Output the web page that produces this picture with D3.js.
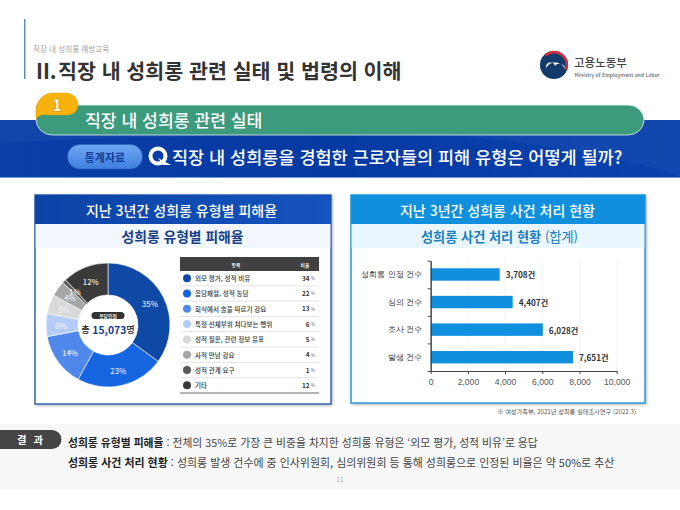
<!DOCTYPE html>
<html lang="ko">
<head>
<meta charset="utf-8">
<script src="https://cdn.jsdelivr.net/npm/d3@7"></script>
<style>
  html, body { margin: 0; padding: 0; background: #fff; }
  svg { display: block; font-family: "Noto Sans CJK KR", "Noto Sans", sans-serif; }
</style>
</head>
<body>
<svg id="slide" width="680" height="510"></svg>
<script>
const pieLabels = ['외모 평가, 성적 비유', '음담패설, 성적 농담', '회식에서 술을 따르기 강요', '특정 신체부위 쳐다보는 행위', '성적 질문, 관련 정보 유포', '사적 만남 강요', '성적 관계 요구', '기타'];
const pieValues = [35, 23, 14, 6, 5, 4, 1, 12];
const tableValues = [34, 22, 13, 6, 5, 4, 1, 12];
const pieColours = ['#0f49a6', '#1565e0', '#4f87ea', '#b4cdf8', '#d9d9d9', '#a6a6a6', '#595959', '#3a3a3a'];
const pieTextColours = ['#dfe8f8', '#dfe8f8', '#eef3fd', '#eef3fd', '#f4f4f4', '#f0f0f0', '#f0f0f0', '#e6e6e6'];

const barLabels = ['성희롱 인정 건수', '심의 건수', '조사 건수', '발생 건수'];
const barValues = [3708, 4407, 6028, 7651];
const barTicks = [0, 2000, 4000, 6000, 8000, 10000];

const svg = d3.select('#slide');
const defs = svg.append('defs');

const bannerGrad = defs.append('linearGradient').attr('id', 'banner').attr('x1', 0).attr('x2', 1).attr('y1', 0).attr('y2', 0);
bannerGrad.append('stop').attr('offset', 0).attr('stop-color', '#0b3fa5');
bannerGrad.append('stop').attr('offset', 0.5).attr('stop-color', '#063aa3');
bannerGrad.append('stop').attr('offset', 1).attr('stop-color', '#0b42ad');

const leftHeadGrad = defs.append('linearGradient').attr('id', 'leftHead').attr('x1', 0).attr('x2', 1).attr('y1', 0).attr('y2', 0);
leftHeadGrad.append('stop').attr('offset', 0).attr('stop-color', '#0c43a6');
leftHeadGrad.append('stop').attr('offset', 1).attr('stop-color', '#1553bd');

const buttonGrad = defs.append('linearGradient').attr('id', 'button').attr('x1', 0).attr('x2', 0).attr('y1', 0).attr('y2', 1);
buttonGrad.append('stop').attr('offset', 0).attr('stop-color', '#6fa8f2');
buttonGrad.append('stop').attr('offset', 1).attr('stop-color', '#3f7fe0');

const shadow = defs.append('filter').attr('id', 'shadow').attr('x', '-5%').attr('y', '-5%').attr('width', '110%').attr('height', '110%');
shadow.append('feDropShadow').attr('dx', 1).attr('dy', 1).attr('stdDeviation', 1.5).attr('flood-color', '#000').attr('flood-opacity', 0.3);

function text(parent, x, y, str, size, fill, weight, anchor) {
  return parent.append('text')
    .attr('x', x).attr('y', y)
    .attr('font-size', size)
    .attr('fill', fill)
    .attr('font-weight', weight || 400)
    .attr('text-anchor', anchor || 'start')
    .attr('dominant-baseline', 'central')
    .text(str);
}

// page title
const head = svg.append('g');
head.append('rect').attr('x', 24).attr('y', 19).attr('width', 1.5).attr('height', 60).attr('fill', '#5b8db5');
text(head, 33, 48, '직장 내 성희롱 예방교육', 7.6, '#a3a3a3');
text(head, 36, 70, 'II.', 21, '#333', 700);
text(head, 58, 70, '직장 내 성희롱 관련 실태 및 법령의 이해', 20.6, '#333', 700);

// ministry logo
const logo = head.append('g').attr('transform', 'translate(554,65)');
logo.append('circle').attr('r', 14).attr('fill', '#123a6b');
logo.append('path').attr('d', 'M-8,3 A10.5,10.5 0 0 1 11,4 A5.5,5.5 0 0 0 1,1 A4.5,4.5 0 0 0 -8,3 Z').attr('fill', '#fff');
logo.append('path')
  .attr('d', d3.arc().innerRadius(11.6).outerRadius(14.2).startAngle(-0.75).endAngle(1.95)())
  .attr('fill', '#cf2e3e');
text(head, 574, 62, '고용노동부', 11.5, '#444', 500);
text(head, 574.5, 74, 'Ministry of Employment and Labor', 5.1, '#666', 500);

// blue banner
const banner = svg.append('g');
banner.append('rect').attr('x', 0).attr('y', 120).attr('width', 680).attr('height', 57).attr('fill', 'url(#banner)');
banner.append('path').attr('d', 'M0,143 Q200,132 460,136 Q600,150 680,176 L680,120 L0,120 Z').attr('fill', '#1a4db0').attr('opacity', 0.55);
banner.append('rect').attr('x', 0).attr('y', 177).attr('width', 680).attr('height', 1).attr('fill', '#6ea0d8');

banner.append('path')
  .attr('d', 'M36,105 H628 A16,15 0 0 1 628,135 H52 A16,16 0 0 1 36,119 Z')
  .attr('fill', '#3c9a7d').attr('stroke', '#e4f1ec').attr('stroke-width', 0.8);
banner.append('path')
  .attr('d', 'M36,110 A17,17 0 0 1 53,93 H66 A12,12 0 0 1 78,105 A10,10 0 0 1 68,115 H48 A12,12 0 0 0 36,119 Z')
  .attr('fill', '#f7b30c').attr('stroke', '#dc9a10').attr('stroke-width', 0.4);
text(banner, 57, 104, '1', 15.5, '#fff6d8', 700, 'middle')
  .attr('stroke', '#d8861a').attr('stroke-width', 1.2).attr('paint-order', 'stroke');
text(banner, 85, 119, '직장 내 성희롱 관련 실태', 17.2, '#fff', 500);

banner.append('rect').attr('x', 67.5).attr('y', 144.5).attr('width', 75).attr('height', 24.5).attr('rx', 12.2)
  .attr('fill', 'url(#button)').attr('stroke', '#2a5db8').attr('stroke-width', 0.6);
text(banner, 105, 156.5, '통계자료', 11, '#143f99', 700, 'middle');
banner.append('circle').attr('cx', 158).attr('cy', 156).attr('r', 7.5).attr('fill', 'none').attr('stroke', '#fff').attr('stroke-width', 4);
banner.append('path').attr('d', 'M158,158 L171,165 L163,165 Z').attr('fill', '#fff');
text(banner, 172, 156, '직장 내 성희롱을 경험한 근로자들의 피해 유형은 어떻게 될까?', 17.5, '#fff', 500);

function panel(x, w, h, stroke, headFill, subFill) {
  const g = svg.append('g');
  g.append('rect').attr('x', x).attr('y', 195).attr('width', w).attr('height', h)
    .attr('fill', '#fff').attr('stroke', stroke).attr('stroke-width', 1.4).attr('filter', 'url(#shadow)');
  g.append('rect').attr('x', x).attr('y', 195).attr('width', w).attr('height', 29).attr('fill', headFill);
  g.append('rect').attr('x', x + 0.7).attr('y', 224).attr('width', w - 1.4).attr('height', 24).attr('fill', subFill);
  return g;
}

// left panel: donut and table
const left = panel(35, 296, 209, '#2a5ca8', 'url(#leftHead)', '#f2f6fd');
text(left, 181.5, 210, '지난 3년간 성희롱 유형별 피해율', 14, '#fff', 500, 'middle');
text(left, 182.5, 236, '성희롱 유형별 피해율', 13.8, '#163f86', 700, 'middle');

const pie = d3.pie().sort(null).value(d => d)(pieValues);
const arc = d3.arc().innerRadius(30).outerRadius(62);
const labelArc = d3.arc().innerRadius(47).outerRadius(47);
const donut = left.append('g').attr('transform', 'translate(108,325)');
donut.selectAll('path.slice').data(pie).join('path')
  .attr('class', 'slice')
  .attr('d', arc)
  .attr('fill', (d, i) => pieColours[i])
  .attr('stroke', '#fff')
  .attr('stroke-width', 0.6);
donut.selectAll('text.pct').data(pie).join('text')
  .attr('class', 'pct')
  .attr('x', d => labelArc.centroid(d)[0])
  .attr('y', d => labelArc.centroid(d)[1])
  .attr('text-anchor', 'middle')
  .attr('dominant-baseline', 'central')
  .attr('font-size', 7.6)
  .attr('font-weight', 500)
  .attr('fill', (d, i) => pieTextColours[i])
  .text(d => d.data + '%');

donut.append('rect').attr('x', -16.5).attr('y', -13).attr('width', 33).attr('height', 7).attr('rx', 3.5).attr('fill', '#333');
text(donut, 0, -9.5, '응답인원', 4.8, '#fff', 500, 'middle');
const total = text(donut, 0, 4, '', 9.2, '#222', 500, 'middle');
total.append('tspan').text('총 ');
total.append('tspan').attr('font-size', 10.4).attr('font-weight', 700).attr('fill', '#16418f').text('15,073');
total.append('tspan').text('명');

const tableX = d3.scaleLinear().domain([0, 1]).range([180, 319]);
const rowY = d3.scaleBand().domain(d3.range(pieLabels.length)).range([270.5, 393]);
const table = left.append('g');
table.append('rect').attr('x', tableX(0)).attr('y', 257).attr('width', tableX(1) - tableX(0)).attr('height', 14).attr('fill', '#404040');
text(table, 236, 264, '항목', 4.8, '#fff', 500, 'middle');
text(table, 305, 264, '비율', 4.8, '#fff', 500, 'middle');
const rows = table.selectAll('g.row').data(pieLabels).join('g').attr('class', 'row')
  .attr('transform', (d, i) => `translate(0,${rowY(i) + rowY.bandwidth() / 2})`);
rows.append('circle').attr('cx', 187).attr('r', 4).attr('fill', (d, i) => pieColours[i]);
rows.append('text').attr('x', 195).attr('dominant-baseline', 'central').attr('font-size', 6.5).attr('font-weight', 500).attr('fill', '#333').text(d => d);
rows.append('text').attr('x', 309.5).attr('text-anchor', 'end').attr('dominant-baseline', 'central').attr('font-size', 6.4).attr('font-weight', 700).attr('fill', '#333')
  .text((d, i) => tableValues[i]);
rows.append('text').attr('x', 311).attr('dominant-baseline', 'central').attr('font-size', 4.2).attr('fill', '#666').text('%');
rows.append('line').attr('x1', tableX(0)).attr('x2', tableX(1))
  .attr('y1', rowY.bandwidth() / 2).attr('y2', rowY.bandwidth() / 2)
  .attr('stroke', (d, i) => i === pieLabels.length - 1 ? '#444' : '#dcdcdc').attr('stroke-width', 0.8);

// right panel: bars
const right = panel(351, 294, 208, '#1a8fd3', '#0f8fdc', '#eaf6fd');
text(right, 497.5, 210, '지난 3년간 성희롱 사건 처리 현황', 14, '#fff', 500, 'middle');
const sub = text(right, 499.5, 236, '', 13.2, '#1c7fbf', 700, 'middle');
sub.append('tspan').text('성희롱 사건 처리 현황 ');
sub.append('tspan').attr('font-weight', 400).text('(합계)');

const x = d3.scaleLinear().domain([0, 10000]).range([430.7, 616.7]);
const y = d3.scaleBand().domain(barLabels).range([260.7, 371]).paddingInner(0.55).paddingOuter(0.275);
const yEdges = d3.scaleLinear().domain([0, barLabels.length]).range([260.7, 371]);

right.append('g').selectAll('line').data(barTicks).join('line')
  .attr('x1', d => x(d)).attr('x2', d => x(d))
  .attr('y1', 260.7).attr('y2', 371)
  .attr('stroke', '#f3f3f3');

right.append('g').selectAll('rect').data(barValues).join('rect')
  .attr('x', x(0))
  .attr('y', (d, i) => y(barLabels[i]))
  .attr('width', d => x(d) - x(0))
  .attr('height', y.bandwidth())
  .attr('fill', '#0f8fdc');

right.append('g').selectAll('text').data(barValues).join('text')
  .attr('x', d => x(d) + 6)
  .attr('y', (d, i) => y(barLabels[i]) + y.bandwidth() / 2)
  .attr('dominant-baseline', 'central')
  .attr('font-size', 8.2)
  .attr('font-weight', 700)
  .attr('fill', '#333')
  .text(d => d3.format(',')(d) + '건');

const xAxis = right.append('g').attr('transform', 'translate(0,371)')
  .call(d3.axisBottom(x).tickValues(barTicks).tickFormat(d3.format(',')).tickSize(3).tickSizeOuter(0));
xAxis.selectAll('text').attr('font-size', 8.6).attr('fill', '#555').attr('dy', '0.95em');
const yAxis = right.append('g').attr('transform', `translate(${x(0)},0)`)
  .call(d3.axisLeft(y).tickSize(0).tickPadding(9));
yAxis.selectAll('text').attr('font-size', 7.8).attr('font-weight', 500).attr('fill', '#333');
right.append('g').attr('transform', `translate(${x(0)},0)`)
  .call(d3.axisLeft(yEdges).ticks(barLabels.length).tickFormat('').tickSize(3).tickSizeOuter(0));
right.selectAll('.domain, .tick line').attr('stroke', '#444');

text(svg, 636, 411.5, '※ 여성가족부, 2021년 성희롱 실태조사연구 (2022.3)', 6.2, '#555', 400, 'end');

// result band
const band = svg.append('g');
band.append('rect').attr('x', 0).attr('y', 424).attr('width', 680).attr('height', 65).attr('fill', '#f7f7f7');
band.append('path').attr('d', 'M0,430 H52 A9.5,9.5 0 0 1 52,449 H0 Z').attr('fill', '#444');
text(band, 31, 439, '결 과', 10.4, '#fff', 700, 'middle').attr('letter-spacing', 2);
const line1 = text(band, 68, 442, '', 10.8, '#444');
line1.append('tspan').attr('font-weight', 700).attr('fill', '#222').text('성희롱 유형별 피해율 ');
line1.append('tspan').text(': 전체의 35%로 가장 큰 비중을 차지한 성희롱 유형은 ‘외모 평가, 성적 비유’로 응답');
const line2 = text(band, 68, 461.5, '', 10.95, '#444');
line2.append('tspan').attr('font-weight', 700).attr('fill', '#222').text('성희롱 사건 처리 현황 ');
line2.append('tspan').text(': 성희롱 발생 건수에 중 인사위원회, 심의위원회 등 통해 성희롱으로 인정된 비율은 약 50%로 추산');
text(band, 340, 478.5, '11', 6.6, '#aaa', 400, 'middle');
</script>
</body>
</html>
